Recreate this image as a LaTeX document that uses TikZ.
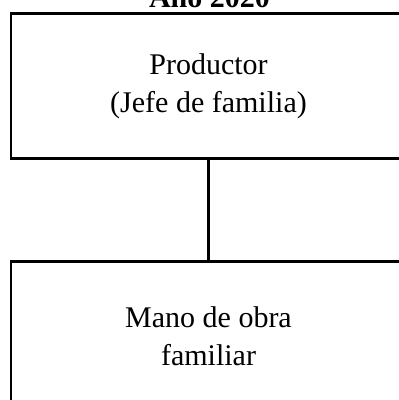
\documentclass[tikz,border=0pt]{standalone}
\usepackage{fontspec}
\setmainfont{Liberation Serif}
\usepackage{tikz}

\begin{document}
\begin{tikzpicture}[x=1pt,y=1pt,
	caja/.style={shape=rectangle,draw=black,line width=2.2pt,minimum width=395pt,align=center,font=\fontsize{30}{38}\selectfont}]
	\useasboundingbox (0,0) rectangle (399,-400);
	\node[anchor=base,font=\fontsize{30}{36}\selectfont\bfseries] (T) at (209.5,-7) {Año 2020};
	\node[caja,minimum height=145pt] (P) at (208.5,-86) {Productor\\(Jefe de familia)};
	\node[caja,minimum height=149pt] (M) at (208.5,-336) {Mano de obra\\familiar};
	\path [line width=2.2pt] (P) edge (M);
	\end{tikzpicture}
\end{document}
